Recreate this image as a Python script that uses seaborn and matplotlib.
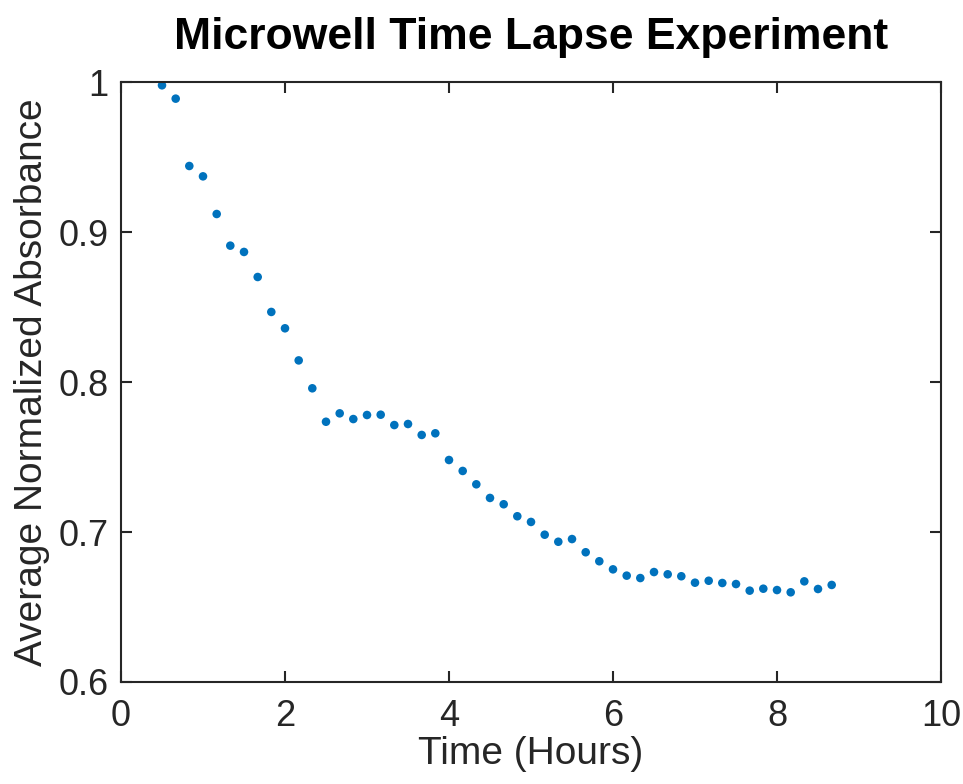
import matplotlib
matplotlib.use("Agg")
import matplotlib.pyplot as plt
import seaborn as sns
import pandas as pd

time_hours = [0.5, 0.667, 0.833, 1.0, 1.167, 1.333, 1.5, 1.667, 1.833, 2.0,
              2.167, 2.333, 2.5, 2.667, 2.833, 3.0, 3.167, 3.333, 3.5, 3.667,
              3.833, 4.0, 4.167, 4.333, 4.5, 4.667, 4.833, 5.0, 5.167, 5.333,
              5.5, 5.667, 5.833, 6.0, 6.167, 6.333, 6.5, 6.667, 6.833, 7.0,
              7.167, 7.333, 7.5, 7.667, 7.833, 8.0, 8.167, 8.333, 8.5, 8.667]
absorbance = [0.9978, 0.9889, 0.944, 0.9371, 0.912, 0.8909, 0.8867, 0.870, 0.8467, 0.8358,
              0.8144, 0.7958, 0.7735, 0.7791, 0.7753, 0.778, 0.7782, 0.7713, 0.772, 0.7647,
              0.7658, 0.748, 0.7407, 0.7318, 0.7227, 0.7185, 0.7105, 0.7067, 0.6982, 0.6935,
              0.6953, 0.6865, 0.6805, 0.6751, 0.6709, 0.6693, 0.6733, 0.6718, 0.6705, 0.6662,
              0.6675, 0.666, 0.6653, 0.6609, 0.6622, 0.6613, 0.6598, 0.6671, 0.6620, 0.6647]
x_ticks = [0, 2, 4, 6, 8, 10]
y_ticks = [0.6, 0.7, 0.8, 0.9, 1.0]
y_tick_labels = ["0.6", "0.7", "0.8", "0.9", "1"]

sns.set_theme(style="white")
plt.rcParams['font.family'] = ['Liberation Sans', 'DejaVu Sans']

df = pd.DataFrame({"Time": time_hours, "Absorbance": absorbance})

fig = plt.figure(figsize=(9.63, 7.84), dpi=100)
ax = fig.add_axes([121/963, 1 - 682/784, (941-121)/963, (682-82)/784])
sns.scatterplot(data=df, x="Time", y="Absorbance", ax=ax, color="#0072BD",
                s=38, edgecolor="none", linewidth=0)

ax.set_xlim(0, 10)
ax.set_ylim(0.6, 1.0)
ax.set_xticks(x_ticks)
ax.set_xticklabels([str(t) for t in x_ticks])
ax.set_yticks(y_ticks)
ax.set_yticklabels(y_tick_labels)
dark = "#262626"
for sp in ax.spines.values():
    sp.set_visible(True)
    sp.set_color(dark)
    sp.set_linewidth(1.5)
ax.tick_params(direction="in", length=8, width=1.5, colors=dark,
               labelsize=26, top=True, right=True, bottom=True, left=True)
ax.tick_params(axis="x", pad=12)
ax.tick_params(axis="y", pad=9)
ax.set_xlabel("Time (Hours)", fontsize=28, color=dark, labelpad=2)
ax.set_ylabel("Average Normalized Absorbance", fontsize=28, color=dark, labelpad=6)
ax.set_title("Microwell Time Lapse Experiment", fontsize=32, fontweight="bold",
             color="black", pad=24)

fig.savefig("out.png", dpi=100)
